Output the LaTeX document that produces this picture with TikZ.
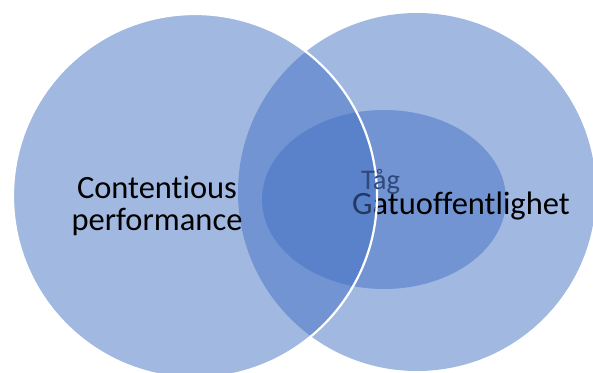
\documentclass[tikz,border=0pt]{standalone}
\usepackage{fontspec}
\setmainfont{Carlito}[Ligatures={NoCommon}]
\definecolor{accent}{HTML}{4472C4}
\definecolor{tagtext}{HTML}{2E4A7C}
\tikzset{
  setshape/.style={fill=accent, fill opacity=0.5, draw=none},
  setlabel/.style={font=\fontsize{32.5}{32}\selectfont, inner sep=0pt, text=black},
}
\begin{document}
\begin{tikzpicture}[x=1pt, y=-1pt]
  \fill[white] (0,0) rectangle (593,372);
  \useasboundingbox (0,0) rectangle (593,372);
  % right set
  \path[setshape] (417,192) circle[radius=179pt];
  % nested subset
  \path[setshape] (384,199.5) ellipse[x radius=122pt, y radius=89.5pt];
  \node[setlabel, anchor=base west] (gatu) at (352,214) {Gatuoffentlighet};
  % left set with white outline
  \path[setshape, draw=white, draw opacity=1, line width=2.2pt] (195,196) circle[radius=182pt];
  \node[setlabel, align=center, anchor=base] (cont) at (157,230) {Contentious\\performance};
  \node[setlabel, font=\fontsize{28.5}{29}\selectfont, text=tagtext, anchor=base west] (tag) at (361,189) {Tåg};
\end{tikzpicture}
\end{document}
